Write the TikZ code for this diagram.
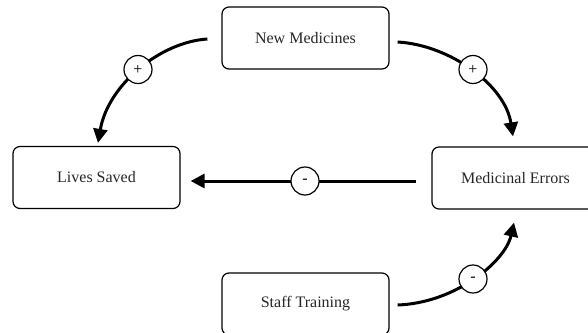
\documentclass[tikz,border=0pt]{standalone}
\usepackage{fontspec}
\setmainfont{Liberation Serif}
\usetikzlibrary{arrows.meta}
\begin{document}
\begin{tikzpicture}[x=1pt,y=-1pt,
  box/.style={draw=black, line width=1.2pt, rounded corners=7pt, minimum width=167pt, minimum height=62pt, inner sep=0pt, font=\fontsize{16}{19}\selectfont, text=black!85},
  link/.style={line width=3pt, -{Triangle[length=14pt,width=14pt]}},
  sign/.style={circle, draw=black, fill=white, line width=1.2pt, minimum size=28pt, inner sep=0pt, font=\fontsize{16}{18}\selectfont}]
\useasboundingbox (0,0) rectangle (588,332);
\clip (0,0) rectangle (588,332);
\node[box] (nm) at (305.5,38) {New Medicines};
\node[box] (ls) at (96.5,177.5) {Lives Saved};
\node[box] (me) at (515.5,178) {Medicinal Errors};
\node[box] (st) at (305.5,304) {Staff Training};
% connectors
\coordinate (a1) at ([xshift=-14pt,yshift=-1pt]nm.west);
\coordinate (a2) at ([xshift=1.5pt,yshift=3pt]ls.north);
\draw[link] (a1) .. controls (160,42) and (108,85) .. (a2);
\coordinate (b1) at ([xshift=8pt,yshift=-4pt]nm.east);
\coordinate (b2) at ([xshift=-2.5pt,yshift=10pt]me.north);
\draw[link] (b1) .. controls (450,45) and (505,85) .. (b2);
\coordinate (c1) at ([xshift=-15pt,yshift=-3pt]me.west);
\coordinate (c2) at ([xshift=10pt,yshift=-3.5pt]ls.east);
\draw[link] (c1) -- (c2);
\coordinate (d1) at ([xshift=8pt,yshift=-1pt]st.east);
\coordinate (d2) at ([xshift=-1.5pt,yshift=-13pt]me.south);
\draw[link] (d1) .. controls (455,303) and (505,262) .. (d2);
% signs
\node[sign] (s1) at (138,69.5) {+};
\node[sign] (s2) at (473,69.5) {+};
\node[sign] (s3) at (305,181) {-};
\node[sign] (s4) at (473,279) {-};
\end{tikzpicture}
\end{document}
